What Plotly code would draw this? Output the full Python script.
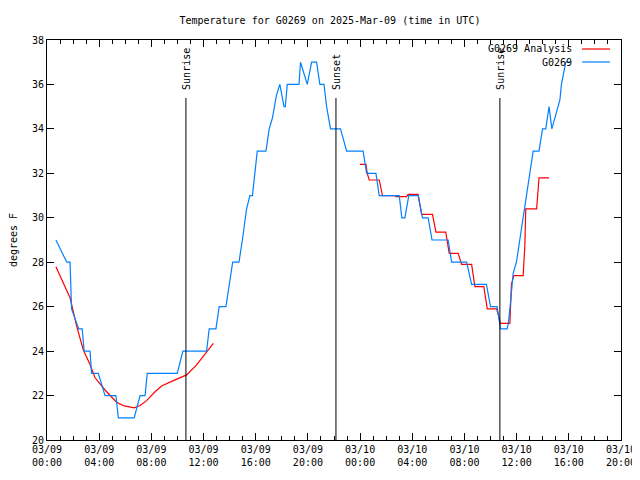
import plotly.graph_objects as go

# ---- data (time in UTC) ----
obs_times = ["2025-03-09 00:41", "2025-03-09 01:31", "2025-03-09 01:46", "2025-03-09 01:53",
             "2025-03-09 02:26", "2025-03-09 02:42", "2025-03-09 02:51", "2025-03-09 03:18",
             "2025-03-09 03:25", "2025-03-09 03:56", "2025-03-09 04:27", "2025-03-09 05:17",
             "2025-03-09 05:28", "2025-03-09 06:41", "2025-03-09 07:08", "2025-03-09 07:31",
             "2025-03-09 07:41", "2025-03-09 09:59", "2025-03-09 10:25", "2025-03-09 12:14",
             "2025-03-09 12:26", "2025-03-09 12:57", "2025-03-09 13:12", "2025-03-09 13:43",
             "2025-03-09 14:14", "2025-03-09 14:43", "2025-03-09 15:00", "2025-03-09 15:18",
             "2025-03-09 15:33", "2025-03-09 15:45", "2025-03-09 16:07", "2025-03-09 16:47",
             "2025-03-09 17:02", "2025-03-09 17:17", "2025-03-09 17:35", "2025-03-09 17:51",
             "2025-03-09 18:10", "2025-03-09 18:16", "2025-03-09 18:25", "2025-03-09 19:19",
             "2025-03-09 19:26", "2025-03-09 19:57", "2025-03-09 20:17", "2025-03-09 20:40",
             "2025-03-09 20:55", "2025-03-09 21:14", "2025-03-09 21:26", "2025-03-09 21:44",
             "2025-03-09 22:30", "2025-03-09 22:58", "2025-03-10 00:14", "2025-03-10 00:30",
             "2025-03-10 01:13", "2025-03-10 01:28", "2025-03-10 03:00", "2025-03-10 03:12",
             "2025-03-10 03:26", "2025-03-10 03:44", "2025-03-10 04:27", "2025-03-10 04:47",
             "2025-03-10 05:13", "2025-03-10 05:31", "2025-03-10 06:45", "2025-03-10 07:01",
             "2025-03-10 08:10", "2025-03-10 08:33", "2025-03-10 09:41", "2025-03-10 10:00",
             "2025-03-10 10:30", "2025-03-10 10:46", "2025-03-10 11:16", "2025-03-10 11:21",
             "2025-03-10 11:29", "2025-03-10 11:44", "2025-03-10 11:59", "2025-03-10 12:15",
             "2025-03-10 12:30", "2025-03-10 12:46", "2025-03-10 13:01", "2025-03-10 13:16",
             "2025-03-10 13:43", "2025-03-10 13:59", "2025-03-10 14:14", "2025-03-10 14:29",
             "2025-03-10 14:42", "2025-03-10 14:55", "2025-03-10 15:06", "2025-03-10 15:19",
             "2025-03-10 15:26", "2025-03-10 15:37", "2025-03-10 15:46", "2025-03-10 16:05"]
obs_temps = [29.0, 28.0, 28.0, 25.9,
             25.0, 25.0, 24.0, 24.0,
             23.0, 23.0, 22.0, 22.0,
             21.0, 21.0, 22.0, 22.0,
             23.0, 23.0, 24.0, 24.0,
             25.0, 25.0, 26.0, 26.0,
             28.0, 28.0, 29.1, 30.4,
             31.0, 31.0, 33.0, 33.0,
             34.0, 34.5, 35.5, 36.0,
             35.0, 35.0, 36.0, 36.0,
             37.0, 36.0, 37.0, 37.0,
             36.0, 36.0, 35.0, 34.0,
             34.0, 33.0, 33.0, 32.0,
             32.0, 31.0, 31.0, 30.0,
             30.0, 31.0, 31.0, 30.0,
             30.0, 29.0, 29.0, 28.0,
             28.0, 27.0, 27.0, 26.0,
             26.0, 25.0, 25.0, 25.2,
             25.9, 27.5, 28.0, 29.0,
             30.0, 31.0, 32.0, 33.0,
             33.0, 34.0, 34.0, 35.0,
             34.0, 34.5, 34.9, 35.3,
             36.0, 36.6, 37.0, 37.0]

ana_times = ["2025-03-09 00:41", "2025-03-09 01:46", "2025-03-09 02:17", "2025-03-09 02:47",
             "2025-03-09 03:18", "2025-03-09 03:41", "2025-03-09 04:27", "2025-03-09 05:20",
             "2025-03-09 05:51", "2025-03-09 06:41", "2025-03-09 07:08", "2025-03-09 07:38",
             "2025-03-09 08:17", "2025-03-09 08:47", "2025-03-09 09:41", "2025-03-09 10:42",
             "2025-03-09 11:28", "2025-03-09 12:14", "2025-03-09 12:45",
             "2025-03-09 18:00",
             "2025-03-09 23:59", "2025-03-10 00:27", "2025-03-10 00:33", "2025-03-10 00:42",
             "2025-03-10 01:28", "2025-03-10 01:43", "2025-03-10 02:40", "2025-03-10 02:45",
             "2025-03-10 03:34", "2025-03-10 03:41", "2025-03-10 04:27", "2025-03-10 04:43",
             "2025-03-10 05:33", "2025-03-10 05:49", "2025-03-10 06:34", "2025-03-10 06:50",
             "2025-03-10 07:31", "2025-03-10 07:47", "2025-03-10 08:33", "2025-03-10 08:48",
             "2025-03-10 09:29", "2025-03-10 09:45", "2025-03-10 10:28", "2025-03-10 10:46",
             "2025-03-10 11:29", "2025-03-10 11:36", "2025-03-10 11:47", "2025-03-10 12:30",
             "2025-03-10 12:38", "2025-03-10 12:42", "2025-03-10 13:32", "2025-03-10 13:43",
             "2025-03-10 14:29"]
ana_temps = [27.8, 26.4, 25.1, 24.05,
             23.4, 22.8, 22.25, 21.7,
             21.55, 21.45, 21.55, 21.77,
             22.17, 22.43, 22.67, 22.93,
             23.38, 23.98, 24.35,
             None,
             32.4, 32.4, 32.0, 31.7,
             31.7, 31.0, 31.0, 30.95,
             30.95, 31.05, 31.05, 30.15,
             30.15, 29.35, 29.35, 28.4,
             28.4, 27.9, 27.9, 26.9,
             26.9, 25.9, 25.9, 25.25,
             25.25, 27.0, 27.4, 27.4,
             28.8, 30.4, 30.4, 31.8,
             31.8]

sun_times = ["2025-03-09 10:39", "2025-03-09 22:09", "2025-03-10 10:43"]
sun_labels = ["Sunrise", "Sunset", "Sunrise"]

tick_vals = ["2025-03-09 00:00", "2025-03-09 04:00", "2025-03-09 08:00", "2025-03-09 12:00",
             "2025-03-09 16:00", "2025-03-09 20:00", "2025-03-10 00:00", "2025-03-10 04:00",
             "2025-03-10 08:00", "2025-03-10 12:00", "2025-03-10 16:00", "2025-03-10 20:00"]
tick_text = ["03/09<br>00:00", "03/09<br>04:00", "03/09<br>08:00", "03/09<br>12:00",
             "03/09<br>16:00", "03/09<br>20:00", "03/10<br>00:00", "03/10<br>04:00",
             "03/10<br>08:00", "03/10<br>12:00", "03/10<br>16:00", "03/10<br>20:00"]

RED = "rgb(255,0,0)"
BLUE = "rgb(0,128,255)"
FONT = "DejaVu Sans Mono"

# page has an 8px body margin, so the figure is drawn at (8, 8)
OFF = 8
W, H = 640 - OFF, 480 - OFF
L, R, T, B = 47 - OFF, 640 - 621, 40 - OFF, 40

fig = go.Figure()
fig.add_trace(go.Scatter(x=ana_times, y=ana_temps, mode="lines", name="G0269 Analysis",
                         line=dict(color=RED, width=1.2), connectgaps=False, showlegend=False))
fig.add_trace(go.Scatter(x=obs_times, y=obs_temps, mode="lines", name="G0269",
                         line=dict(color=BLUE, width=1.2), showlegend=False))

for t, lab in zip(sun_times, sun_labels):
    fig.add_shape(type="line", xref="x", yref="paper", x0=t, x1=t, y0=0, y1=0.855,
                  line=dict(color="black", width=1))
    fig.add_annotation(x=t, xref="x", y=0.87, yref="paper", text=lab, textangle=-90,
                       showarrow=False, yanchor="bottom", xanchor="center",
                       font=dict(family=FONT, size=10, color="black"))

# legend drawn gnuplot-style: right-aligned text with the sample to its right
PW = 574.0
for i, (lab, col) in enumerate([("G0269 Analysis", RED), ("G0269", BLUE)]):
    ypx = 49 + 13 * i
    yp = (440 - ypx) / 400.0
    fig.add_annotation(x=(574 - 47) / PW, xref="paper", y=yp, yref="paper", text=lab,
                       showarrow=False, xanchor="right", yanchor="middle",
                       font=dict(family=FONT, size=10, color="black"))
    fig.add_shape(type="line", xref="paper", yref="paper",
                  x0=(582 - 47) / PW, x1=(610 - 47) / PW, y0=yp, y1=yp,
                  line=dict(color=col, width=1.2))

fig.update_layout(
    width=W, height=H,
    margin=dict(l=L, r=R, t=T, b=B),
    paper_bgcolor="white", plot_bgcolor="white",
    font=dict(family=FONT, size=10, color="black"),
    title=dict(text="Temperature for G0269 on 2025-Mar-09 (time in UTC)",
               x=(47 + 621) / 2 / 640 - OFF / 640, xanchor="center",
               y=1 - (20 - OFF) / H, yanchor="middle",
               font=dict(family=FONT, size=10, color="black")),
    showlegend=False,
)
fig.update_xaxes(type="date", range=["2025-03-09 00:00", "2025-03-10 20:00"],
                 tickmode="array", tickvals=tick_vals, ticktext=tick_text,
                 ticks="inside", ticklen=7, tickcolor="black", showline=True, linecolor="black",
                 linewidth=1, mirror="allticks", showgrid=False, zeroline=False, automargin=False,
                 tickfont=dict(family=FONT, size=10),
                 minor=dict(ticks="inside", ticklen=4, tickcolor="black",
                            tick0="2025-03-09 00:00", dtick=3600000, showgrid=False))
fig.update_yaxes(range=[20, 38], dtick=2, tick0=20, ticks="inside", ticklen=7, tickcolor="black",
                 showline=True, linecolor="black", linewidth=1, mirror="allticks",
                 showgrid=False, zeroline=False, automargin=False,
                 tickfont=dict(family=FONT, size=10),
                 title=dict(text="degrees F", standoff=14, font=dict(family=FONT, size=10)))

fig.write_html("out.html")
